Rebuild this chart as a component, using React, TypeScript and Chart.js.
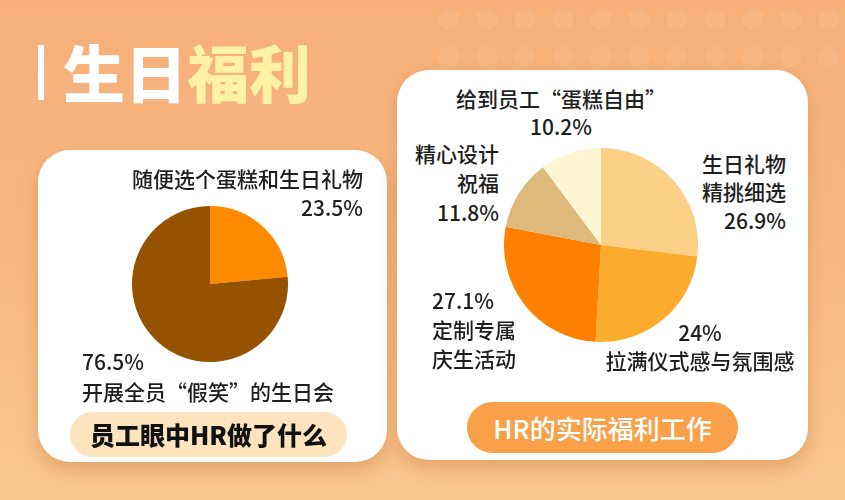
import Chart from "chart.js/auto";
import { useEffect, useRef } from "react";

// left card: what staff think HR does
const staffLabels = ["随便选个蛋糕和生日礼物", "开展全员“假笑”的生日会"];
const staffValues = [23.5, 76.5];
const staffColors = ["#FF8A00", "#955300"];

// right card: what HR actually does
const hrLabels = ["生日礼物精挑细选", "拉满仪式感与氛围感", "定制专属庆生活动", "精心设计祝福", "给到员工“蛋糕自由”"];
const hrValues = [26.9, 24, 27.1, 11.8, 10.2];
const hrColors = ["#FDD088", "#FCAC2C", "#FF8000", "#DDB97C", "#FFF5D2"];

const FONT = '"Noto Sans CJK SC", "Noto Sans", sans-serif';

interface PieProps {
  labels: string[];
  values: number[];
  colors: string[];
  left: number;
  top: number;
  size: number;
}

function Pie({ labels, values, colors, left, top, size }: PieProps) {
  const canvasRef = useRef<HTMLCanvasElement>(null);

  useEffect(() => {
    if (!canvasRef.current) return;

    const chart = new Chart(canvasRef.current, {
      type: "pie",
      data: {
        labels,
        datasets: [
          {
            data: values,
            backgroundColor: colors,
            borderWidth: 0,
          },
        ],
      },
      options: {
        animation: false,
        responsive: true,
        maintainAspectRatio: false,
        layout: { padding: 0 },
        plugins: {
          legend: { display: false },
          tooltip: { enabled: false },
        },
      },
    });

    return () => {
      chart.destroy();
    };
  }, [labels, values, colors]);

  return (
    <div style={{ position: "absolute", left, top, width: size, height: size }}>
      <canvas ref={canvasRef} />
    </div>
  );
}

const labelStyle = {
  position: "absolute" as const,
  fontFamily: FONT,
  fontSize: 21,
  fontWeight: 500,
  lineHeight: "29px",
  color: "#1E1E1E",
  whiteSpace: "nowrap" as const,
};

const cardStyle = {
  position: "absolute" as const,
  background: "#fff",
  borderRadius: 32,
  boxShadow: "0 8px 18px rgba(190, 105, 35, 0.35)",
};

export default function App() {
  return (
    <div
      style={{
        position: "absolute",
        left: 0,
        top: 0,
        width: 845,
        height: 500,
        overflow: "hidden",
        background: "linear-gradient(180deg, #F6AF79 0%, #F7BA85 55%, #F9C691 100%)",
        fontFamily: FONT,
      }}
    >
      {/* faint dot pattern at the top right */}
      <div
        style={{
          position: "absolute",
          left: 430,
          top: 0,
          width: 415,
          height: 80,
          backgroundImage: "radial-gradient(circle, rgba(255,255,255,0.07) 38%, transparent 41%)",
          backgroundSize: "38px 38px",
        }}
      />

      {/* title */}
      <div style={{ position: "absolute", left: 38, top: 45, width: 6, height: 55, background: "#fff" }} />
      <div
        style={{
          position: "absolute",
          left: 63,
          top: 40,
          fontSize: 62,
          lineHeight: "62px",
          fontWeight: 900,
          whiteSpace: "nowrap",
        }}
      >
        <span style={{ color: "#fff" }}>生日</span>
        <span style={{ color: "#FFF3A3" }}>福利</span>
      </div>

      {/* left card */}
      <div style={{ ...cardStyle, left: 38, top: 150, width: 349, height: 312 }} />
      <Pie labels={staffLabels} values={staffValues} colors={staffColors} left={132} top={206} size={156} />
      <div style={{ ...labelStyle, right: 845 - 363, top: 163.5, textAlign: "right" }}>
        {staffLabels[0]}
        <br />
        {staffValues[0]}%
      </div>
      <div style={{ ...labelStyle, left: 82, top: 345.5, lineHeight: "30px" }}>
        {staffValues[1]}%
        <br />
        {staffLabels[1]}
      </div>
      <div
        style={{
          position: "absolute",
          left: 70,
          top: 412,
          width: 277,
          height: 45,
          borderRadius: 23,
          background: "#FDE4BF",
          color: "#111",
          fontSize: 25,
          fontWeight: 900,
          lineHeight: "45px",
          textAlign: "center",
          whiteSpace: "nowrap",
        }}
      >
        员工眼中HR做了什么
      </div>

      {/* right card */}
      <div style={{ ...cardStyle, left: 397, top: 70, width: 411, height: 390 }} />
      <Pie labels={hrLabels} values={hrValues} colors={hrColors} left={504} top={148} size={194} />
      <div style={{ ...labelStyle, left: 431, width: 260, top: 83.5, lineHeight: "28px", textAlign: "center" }}>
        给到员工“蛋糕自由”
        <br />
        {hrValues[4]}%
      </div>
      <div style={{ ...labelStyle, right: 845 - 499, top: 138.5, textAlign: "right", lineHeight: "29.5px" }}>
        精心设计
        <br />
        祝福
        <br />
        {hrValues[3]}%
      </div>
      <div style={{ ...labelStyle, right: 845 - 786, top: 148.5, textAlign: "right", lineHeight: "28.5px" }}>
        生日礼物
        <br />
        精挑细选
        <br />
        {hrValues[0]}%
      </div>
      <div style={{ ...labelStyle, left: 432, top: 285.5 }}>
        {hrValues[2]}%
        <br />
        定制专属
        <br />
        庆生活动
      </div>
      <div style={{ ...labelStyle, left: 600, width: 200, top: 317.5, lineHeight: "28px", textAlign: "center" }}>
        {hrValues[1]}%
        <br />
        拉满仪式感与氛围感
      </div>
      <div
        style={{
          position: "absolute",
          left: 467,
          top: 402,
          width: 271,
          height: 51,
          borderRadius: 26,
          background: "#F8A149",
          color: "#fff",
          fontSize: 26,
          fontWeight: 500,
          lineHeight: "51px",
          textAlign: "center",
          whiteSpace: "nowrap",
        }}
      >
        HR的实际福利工作
      </div>
    </div>
  );
}
